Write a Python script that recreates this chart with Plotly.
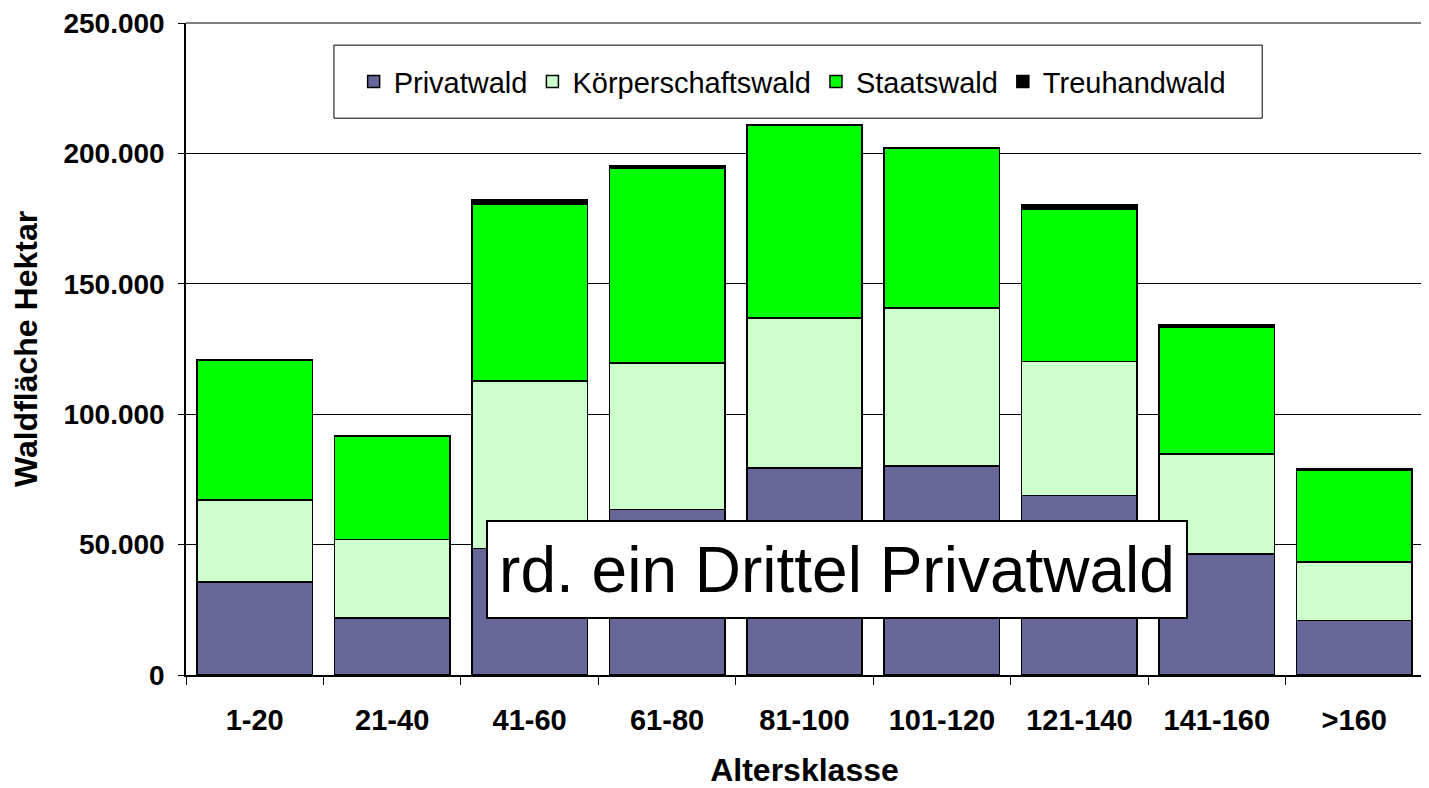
import plotly.graph_objects as go

# Altersklassen und Flächen (Hektar) je Eigentumsart
klassen = ["1-20", "21-40", "41-60", "61-80", "81-100", "101-120", "121-140", "141-160", ">160"]
privatwald = [35570, 21870, 48500, 63460, 79420, 80080, 68840, 46430, 20990]
koerperschaftswald = [31580, 30080, 64310, 56250, 57440, 60620, 51410, 38370, 22250]
staatswald = [53600, 39640, 67680, 74440, 73790, 61130, 58250, 48730, 35300]
treuhandwald = [0, 0, 1600, 1100, 500, 500, 2000, 950, 500]
y_ticks = [0, 50000, 100000, 150000, 200000, 250000]

font = "Liberation Sans, Arial, sans-serif"

serien = [
    ("Privatwald", privatwald, "#666699"),
    ("Körperschaftswald", koerperschaftswald, "#CCFFCC"),
    ("Staatswald", staatswald, "#00FF00"),
    ("Treuhandwald", treuhandwald, "#000000"),
]

fig = go.Figure()
for name, werte, farbe in serien:
    fig.add_trace(go.Bar(
        x=klassen, y=werte, name=name,
        marker=dict(color=farbe, line=dict(color="black", width=1.5)),
    ))

# page has an 8px body margin, so the figure is a bit smaller than the window
fig.update_layout(
    width=1421, height=780,
    barmode="stack", bargap=0.16,
    separators=",.",
    plot_bgcolor="white", paper_bgcolor="white",
    margin=dict(l=178, r=6, t=15, b=113, autoexpand=False),
    font=dict(family=font, color="black"),
    showlegend=True,
    legend=dict(
        orientation="h", traceorder="normal",
        x=0.49, xanchor="center", y=0.91, yanchor="middle",
        bgcolor="rgba(0,0,0,0)", borderwidth=0,
        font=dict(family=font, size=29, color="black"),
        itemclick=False,
    ),
)

fig.update_xaxes(
    automargin=False,
    showline=True, linecolor="black", linewidth=1.5,
    ticks="outside", ticklen=8, tickcolor="black", tickson="boundaries",
    tickfont=dict(family=font, size=29, weight="bold"), ticklabelstandoff=18,
    title=dict(text="Altersklasse", font=dict(family=font, size=32, weight="bold"), standoff=36),
)
fig.update_yaxes(
    automargin=False,
    range=[0, 250000], tickvals=y_ticks, tickformat=",d",
    showline=True, linecolor="black", linewidth=1.5,
    ticks="outside", ticklen=6, tickcolor="black",
    showgrid=True, gridcolor="black", gridwidth=1,
    tickfont=dict(family=font, size=28, weight="bold"), ticklabelstandoff=8,
    ticklabeloverflow="allow",
    title=dict(text="Waldfläche Hektar", font=dict(family=font, size=32, weight="bold"), standoff=20),
)

# Rahmen der Zeichenfläche und Legendenkasten
fig.add_shape(type="line", xref="paper", yref="paper", x0=0, x1=1, y0=1, y1=1,
              line=dict(color="#808080", width=2), layer="above")
fig.add_shape(type="line", xref="paper", yref="paper", x0=1, x1=1, y0=0, y1=1,
              line=dict(color="#808080", width=2), layer="above")
fig.add_shape(type="rect", xref="paper", yref="paper", x0=0.1196, x1=0.870, y0=0.854, y1=0.966,
              line=dict(color="black", width=1), fillcolor="white", layer="above")

fig.add_annotation(
    text="rd. ein Drittel Privatwald", xref="paper", yref="paper",
    x=0.526, y=0.162, xanchor="center", yanchor="middle", showarrow=False,
    font=dict(family=font, size=64, color="black"),
    bgcolor="white", bordercolor="black", borderwidth=2, borderpad=0,
    width=698, height=95,
)

fig.write_html("out.html")
